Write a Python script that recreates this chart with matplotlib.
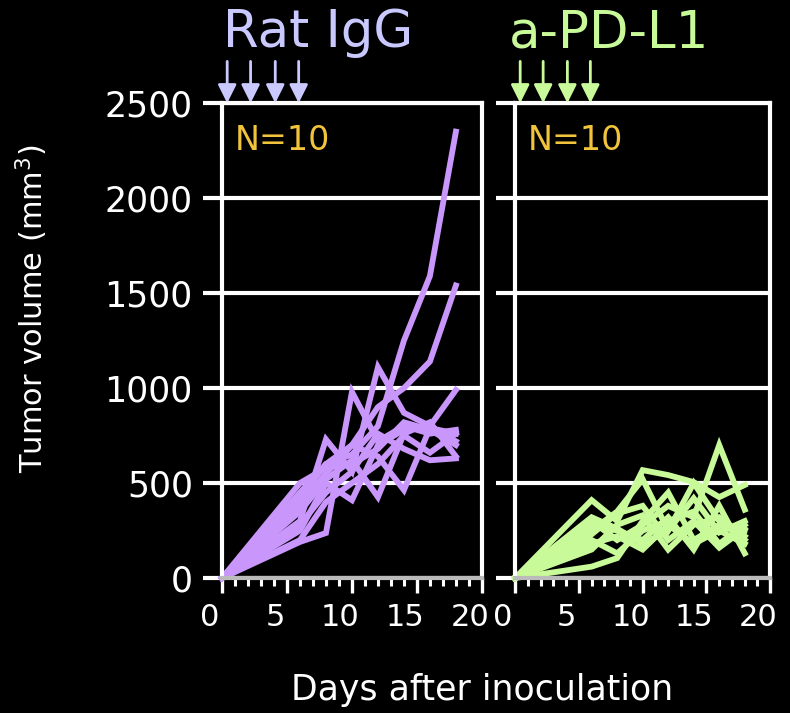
import matplotlib.pyplot as plt
import matplotlib.transforms as mtransforms

# données (volume tumoral en mm3)
days = [0, 6, 8, 10, 12, 14, 16, 18]

igg_mice = [
    [0, 420, 600, 650, 800, 1250, 1590, 2350],
    [0, 380, 550, 700, 900, 1000, 1140, 1540],
    [0, 300, 730, 560, 1110, 870, 800, 990],
    [0, 190, 237, 980, 720, 800, 760, 780],
    [0, 250, 500, 410, 700, 780, 800, 720],
    [0, 350, 520, 620, 426, 760, 820, 640],
    [0, 450, 600, 700, 640, 463, 790, 760],
    [0, 280, 450, 560, 760, 680, 620, 630],
    [0, 500, 580, 600, 680, 820, 780, 700],
    [0, 200, 400, 500, 600, 750, 660, 760],
]

pdl1_mice = [
    [0, 410, 300, 568, 542, 505, 426, 490],
    [0, 300, 200, 280, 380, 320, 700, 360],
    [0, 250, 350, 520, 250, 500, 300, 200],
    [0, 60, 105, 300, 450, 200, 280, 250],
    [0, 200, 130, 250, 300, 350, 180, 280],
    [0, 280, 250, 200, 320, 150, 380, 130],
    [0, 150, 280, 330, 150, 280, 320, 220],
    [0, 320, 260, 180, 250, 420, 240, 300],
    [0, 230, 340, 380, 200, 300, 160, 260],
    [0, 180, 220, 150, 280, 180, 250, 180],
]

dose_days = [0.4, 2.2, 4.1, 5.9]
panel_titles = ["Rat IgG", "a-PD-L1"]
n_labels = ["N=10", "N=10"]
y_ticks = [0, 500, 1000, 1500, 2000, 2500]
x_ticks = [0, 5, 10, 15, 20]

line_colors = ["#c997fb", "#c8fa9a"]
title_colors = ["#c9c9ff", "#c8fa9a"]
n_color = "#f2c43c"

plt.rcParams['font.family'] = ['DejaVu Sans']

fig = plt.figure(figsize=(7.9, 7.13), dpi=100, facecolor='black')
ax1 = fig.add_axes([0.281, 0.1893, 0.329, 0.666])
ax2 = fig.add_axes([0.652, 0.1893, 0.323, 0.666])

for i, (ax, mice) in enumerate([(ax1, igg_mice), (ax2, pdl1_mice)]):
    ax.set_facecolor('black')
    for vals in mice:
        ax.plot(days, vals, color=line_colors[i], lw=4.2, solid_joinstyle='miter', clip_on=False)
    ax.set_xlim(0, 20)
    ax.set_ylim(0, 2500)
    ax.set_yticks(y_ticks)
    ax.set_xticks(x_ticks)
    ax.set_xticks(range(0, 21), minor=True)
    ax.grid(axis='y', color='white', lw=3)
    ax.set_axisbelow(True)
    for s in ax.spines.values():
        s.set_color('white')
        s.set_linewidth(3)
    ax.spines['bottom'].set_color('#bbbbbb')
    ax.tick_params(axis='y', which='major', length=14, width=3, color='white',
                   labelcolor='white', labelsize=25, pad=7)
    ax.tick_params(axis='x', which='major', length=11, width=2.4, color='white',
                   labelcolor='white', labelsize=22, pad=7)
    ax.tick_params(axis='x', which='minor', length=6, width=2.2, color='white')
    # étiquettes x légèrement décalées à gauche comme sur l'original
    off = mtransforms.ScaledTranslation(-12 / 100, 0, fig.dpi_scale_trans)
    for lab in ax.get_xticklabels():
        lab.set_transform(lab.get_transform() + off)

    # flèches des injections
    for d in dose_days:
        ax.annotate('', xy=(d, 2500), xytext=(d, 2720),
                    arrowprops=dict(arrowstyle='-|>', color=title_colors[i], lw=2,
                                    mutation_scale=28, shrinkA=0, shrinkB=0),
                    annotation_clip=False)

    ax.text(0.37, 1.147, panel_titles[i], transform=ax.transAxes, color=title_colors[i],
            fontsize=37, ha='center', va='center')
    ax.text(0.05, 0.922, n_labels[i], transform=ax.transAxes, color=n_color,
            fontsize=24, ha='left', va='center')

ax2.tick_params(axis='y', labelleft=False)

fig.text(0.04, 0.567, "Tumor volume (mm$^3$)", rotation=90, color='white',
         fontsize=22, ha='center', va='center')
fig.text(0.61, 0.032, "Days after inoculation", color='white',
         fontsize=25, ha='center', va='center')

plt.savefig("out.png", dpi=100, facecolor='black')
plt.close()
